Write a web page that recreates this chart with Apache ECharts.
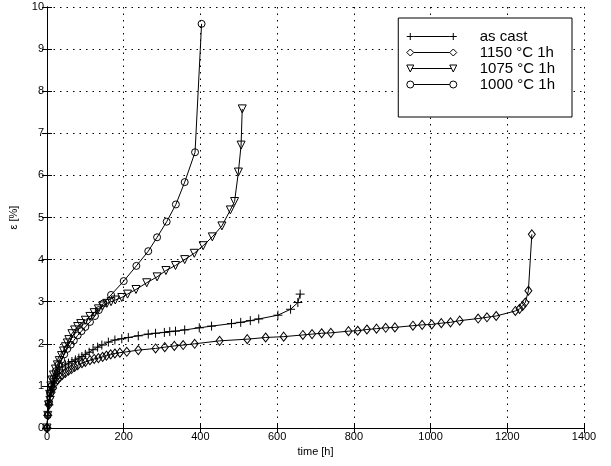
<!DOCTYPE html>
<html>
<head>
<meta charset="utf-8">
<script src="https://cdn.jsdelivr.net/npm/echarts@6/dist/echarts.min.js"></script>
<style>
  html, body { margin: 0; padding: 0; background: #fff; }
  #main { width: 611px; height: 466px; }
</style>
</head>
<body>
<div id="main"></div>
<script>
var myChart = echarts.init(document.getElementById('main'));

// creep curves: [time h, strain %]
var asCast = [[0,0],[2,0.3],[5,0.55],[8,0.75],[12,0.92],[16,1.05],[21,1.18],[27,1.3],[33,1.38],[40,1.45],[48,1.5],[56,1.54],[65,1.58],[74,1.62],[83,1.66],[91,1.7],[100,1.75],[110,1.8],[120,1.86],[132,1.92],[143,1.97],[160,2.04],[177,2.09],[195,2.12],[212,2.15],[238,2.19],[264,2.23],[283,2.25],[306,2.27],[320,2.29],[335,2.3],[359,2.33],[397,2.38],[429,2.42],[481,2.48],[505,2.51],[530,2.55],[552,2.59],[602,2.68],[635,2.82],[654,2.98],[660,3.18]];
var t1150 = [[0,0],[2,0.3],[5,0.55],[8,0.72],[12,0.85],[16,0.95],[22,1.08],[28,1.15],[34,1.21],[40,1.26],[48,1.31],[56,1.36],[64,1.4],[72,1.45],[80,1.49],[91,1.54],[100,1.57],[112,1.61],[123,1.64],[134,1.66],[145,1.69],[155,1.72],[166,1.75],[177,1.77],[190,1.79],[208,1.81],[238,1.85],[283,1.89],[307,1.92],[332,1.95],[355,1.97],[385,2.0],[450,2.07],[522,2.11],[570,2.15],[617,2.17],[667,2.21],[691,2.23],[716,2.25],[740,2.26],[786,2.3],[810,2.31],[834,2.34],[859,2.36],[883,2.38],[907,2.39],[954,2.43],[978,2.45],[1003,2.46],[1028,2.49],[1052,2.51],[1076,2.55],[1124,2.6],[1147,2.63],[1171,2.66],[1221,2.78],[1232,2.83],[1240,2.9],[1247,2.98],[1255,3.26],[1264,4.6]];
var t1075 = [[0,0],[2,0.3],[4,0.55],[7,0.8],[10,1.0],[13,1.14],[17,1.26],[22,1.4],[27,1.5],[32,1.6],[38,1.72],[43,1.83],[48,1.93],[53,2.02],[57,2.1],[65,2.24],[72,2.33],[80,2.41],[88,2.48],[100,2.56],[112,2.65],[123,2.74],[134,2.83],[145,2.9],[156,2.96],[167,3.0],[178,3.04],[195,3.1],[210,3.18],[232,3.29],[260,3.45],[287,3.59],[310,3.74],[335,3.86],[359,4.0],[384,4.15],[407,4.33],[431,4.54],[456,4.8],[478,5.18],[489,5.38],[499,6.08],[506,6.72],[509,7.58]];
var t1000 = [[0,0],[2,0.3],[5,0.6],[8,0.82],[12,1.0],[17,1.18],[23,1.35],[30,1.5],[37,1.62],[45,1.75],[53,1.88],[62,1.98],[70,2.08],[80,2.2],[90,2.3],[100,2.4],[112,2.52],[125,2.66],[135,2.8],[147,2.96],[167,3.16],[200,3.49],[233,3.85],[264,4.2],[287,4.53],[312,4.9],[336,5.31],[359,5.84],[386,6.55],[403,9.6]];

var xTicks = [0, 1400, 200];
var yTicks = [0, 10, 1];
var seriesNames = ['as cast', '1150 °C 1h', '1075 °C 1h', '1000 °C 1h'];

// legend icons: line with a marker at each end (50 x 7 box)
var legendIcons = [
    'path://M0,3.5L7,3.5M3.5,0L3.5,7M7,3.5L43,3.5M43,3.5L50,3.5M46.5,0L46.5,7',
    'path://M3.5,0L7,3.5L3.5,7L0,3.5ZM7,3.5L43,3.5M46.5,0L50,3.5L46.5,7L43,3.5Z',
    'path://M0,0L7,0L3.5,7ZM5,3.5L45,3.5M43,0L50,0L46.5,7Z',
    'path://M7,3.5A3.5,3.5,0,1,1,0,3.5A3.5,3.5,0,1,1,7,3.5ZM7,3.5L43,3.5M50,3.5A3.5,3.5,0,1,1,43,3.5A3.5,3.5,0,1,1,50,3.5Z'
];

var gridDots = { color: '#000', width: 1, type: [1.5, 5] };
var mk = { color: 'rgba(255,255,255,0)', borderColor: '#000', borderWidth: 1 };

function curve(name, data, symbol, size, rotate) {
    return {
        name: name,
        type: 'line',
        data: data,
        symbol: symbol,
        symbolSize: size,
        symbolRotate: rotate || 0,
        showAllSymbol: true,
        animation: false,
        lineStyle: { color: '#000', width: 1 },
        itemStyle: mk,
    };
}

var option = {
    backgroundColor: '#fff',
    textStyle: { fontFamily: 'Liberation Sans', color: '#000' },
    grid: { left: 45, right: 27, top: 7, bottom: 38 },
    legend: {
        orient: 'vertical',
        right: 39,
        top: 18,
        padding: [11, 17, 25, 8],
        backgroundColor: '#fff',
        borderColor: '#000',
        borderWidth: 1,
        borderRadius: 0,
        itemWidth: 50,
        itemHeight: 7,
        itemGap: 1,
        itemStyle: { color: 'rgba(255,255,255,0)', borderColor: '#000', borderWidth: 1 },
        textStyle: { fontSize: 15, color: '#000', padding: [0, 0, 0, 18] },
        data: seriesNames.map(function (n, i) { return { name: n, icon: legendIcons[i] }; }),
    },
    xAxis: [{
        type: 'value',
        min: xTicks[0], max: xTicks[1], interval: xTicks[2],
        name: 'time [h]',
        nameLocation: 'middle',
        nameGap: 12,
        nameTextStyle: { fontSize: 11, color: '#000' },
        axisLine: { onZero: false, lineStyle: { color: '#000', width: 1 } },
        axisTick: { inside: true, length: 5, lineStyle: { color: '#000' } },
        axisLabel: { fontSize: 11, color: '#000', margin: 3, formatter: function (v) { return String(v); } },
        splitLine: { show: true, lineStyle: gridDots },
    }, {
        type: 'value',
        position: 'top',
        min: xTicks[0], max: xTicks[1], interval: xTicks[2],
        axisLine: { show: true, lineStyle: { color: '#000', width: 1 } },
        axisTick: { show: true, inside: true, length: 5, lineStyle: { color: '#000' } },
        axisLabel: { show: false },
        splitLine: { show: false },
    }],
    yAxis: [{
        type: 'value',
        min: yTicks[0], max: yTicks[1], interval: yTicks[2],
        name: 'ε [%]',
        nameLocation: 'middle',
        nameGap: 28,
        nameRotate: 90,
        nameTextStyle: { fontSize: 11, color: '#000' },
        axisLine: { show: true, onZero: false, lineStyle: { color: '#000', width: 1 } },
        axisTick: { show: true, inside: true, length: 5, lineStyle: { color: '#000' } },
        axisLabel: { fontSize: 11, color: '#000', margin: 3 },
        splitLine: { show: true, lineStyle: gridDots },
    }, {
        type: 'value',
        position: 'right',
        min: yTicks[0], max: yTicks[1], interval: yTicks[2],
        axisLine: { show: true, lineStyle: { color: '#000', width: 1 } },
        axisTick: { show: true, inside: true, length: 5, lineStyle: { color: '#000' } },
        axisLabel: { show: false },
        splitLine: { show: false },
    }],
    series: [
        curve(seriesNames[0], asCast, 'path://M5,0L5,10M0,5L10,5', 9),
        curve(seriesNames[1], t1150, 'diamond', [7, 9]),
        curve(seriesNames[2], t1075, 'triangle', 8, 180),
        curve(seriesNames[3], t1000, 'circle', 7),
    ],
};
myChart.setOption(option);
</script>
</body>
</html>
